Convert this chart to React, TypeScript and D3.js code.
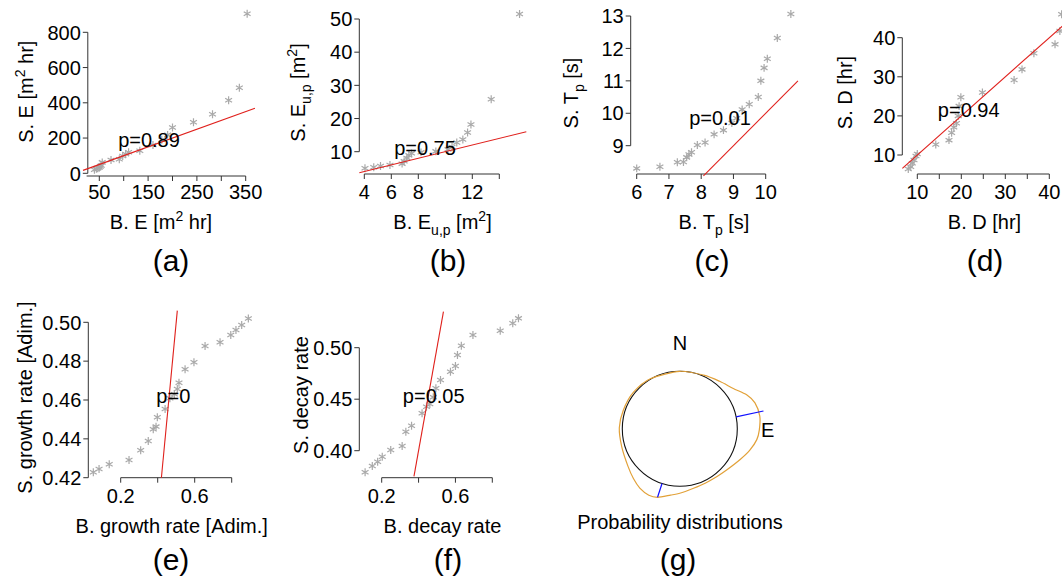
import React from "react";
import * as d3 from "d3";

// (a) storm energy, buoy vs simulated
const energyB = [40, 44, 47, 50, 52, 54, 56, 74, 91, 98, 104, 110, 133, 160, 178, 190, 200, 243, 282, 315, 337, 353];
const energyS = [20, 25, 29, 33, 38, 44, 62, 76, 80, 98, 110, 119, 128, 160, 190, 218, 260, 290, 335, 414, 485, 905];
// (b) E_u,p
const energyUpB = [4.05, 4.7, 5.2, 5.9, 6.8, 6.95, 7.15, 7.3, 7.5, 8.2, 9.3, 10.2, 10.5, 10.85, 11.3, 11.65, 11.9, 13.4, 15.5];
const energyUpS = [5.0, 5.3, 5.7, 6.0, 6.4, 7.1, 8.1, 8.9, 9.5, 9.8, 10.1, 10.7, 11.4, 12.8, 13.7, 15.8, 18.2, 25.8, 51.5];
// (c) Tp
const periodB = [6.0, 6.72, 7.26, 7.45, 7.55, 7.62, 7.7, 7.88, 8.12, 8.4, 8.69, 8.95, 9.1, 9.27, 9.49, 9.77, 9.85, 9.95, 10.05, 10.36, 10.78];
const periodS = [8.3, 8.35, 8.49, 8.5, 8.64, 8.73, 8.8, 9.02, 9.1, 9.35, 9.48, 9.7, 9.85, 10.12, 10.28, 10.5, 11.0, 11.4, 11.68, 12.32, 13.06];
// (d) duration
const durationB = [7.95, 8.5, 8.86, 9.25, 9.7, 10.0, 14.2, 17.2, 17.8, 18.3, 18.9, 19.3, 19.5, 19.9, 24.8, 32.0, 33.8, 36.5, 41.3, 42.4, 42.8];
const durationS = [6.4, 7.0, 7.87, 8.7, 9.74, 10.26, 12.7, 13.8, 15.7, 17.1, 18.1, 20.0, 22.5, 24.75, 26.0, 29.2, 31.9, 36.0, 38.3, 41.7, 46.0];
// (e) growth rate
const growthB = [0.052, 0.083, 0.138, 0.245, 0.308, 0.349, 0.376, 0.391, 0.398, 0.44, 0.466, 0.49, 0.506, 0.515, 0.548, 0.596, 0.656, 0.737, 0.795, 0.823, 0.854, 0.89];
const growthS = [0.4228, 0.4245, 0.4269, 0.4291, 0.4341, 0.4389, 0.4449, 0.4463, 0.4511, 0.4554, 0.4609, 0.463, 0.4657, 0.4689, 0.4758, 0.4794, 0.4878, 0.4897, 0.4935, 0.496, 0.4986, 0.502];
// (f) decay rate
const decayB = [0.11, 0.149, 0.178, 0.203, 0.249, 0.311, 0.331, 0.362, 0.419, 0.443, 0.461, 0.48, 0.494, 0.519, 0.573, 0.6, 0.611, 0.632, 0.695, 0.843, 0.911, 0.942];
const decayS = [0.379, 0.3851, 0.3893, 0.3942, 0.4007, 0.4046, 0.4184, 0.4243, 0.4363, 0.4427, 0.4453, 0.452, 0.4606, 0.4686, 0.4767, 0.4822, 0.4929, 0.5019, 0.5123, 0.5165, 0.5237, 0.5285];
// (g) directional density (compass bearings, deg)
const dirBearings = [0, 24, 40, 53, 63, 71, 81, 91, 98, 107, 117, 131, 142, 155, 167, 180, 188, 198, 205, 214, 223, 234, 253, 271, 288, 308, 330];
const dirDensity = [0, 0.05, 0.18, 0.38, 0.7, 0.88, 0.94, 0.88, 0.81, 0.63, 0.41, 0.2, 0.12, 0.1, 0.14, 0.28, 0.38, 0.58, 0.63, 0.56, 0.42, 0.26, 0.13, 0.12, 0.08, 0.06, 0.02];
const meanDirs = [78, 198];
const meanLengths = [1.12, 0.58];

// ticks
const aXTicks = [50, 100, 150, 200, 250, 300, 350];
const aXLabels = [50, 150, 250, 350];
const aYTicks = [0, 200, 400, 600, 800];
const bXTicks = [4, 6, 8, 10, 12, 14];
const bXLabels = [4, 6, 8, 12];
const bYTicks = [10, 20, 30, 40, 50];
const cXTicks = [6, 7, 8, 9, 10];
const cYTicks = [9, 10, 11, 12, 13];
const dXTicks = [10, 15, 20, 25, 30, 35, 40];
const dXLabels = [10, 20, 30, 40];
const dYTicks = [10, 20, 30, 40];
const eXTicks = [0.2, 0.4, 0.6, 0.8];
const eXLabels = [0.2, 0.6];
const eYTicks = [0.42, 0.44, 0.46, 0.48, 0.5];
const fYTicks = [0.4, 0.45, 0.5];

const FONT = "'Liberation Sans', Arial, Helvetica, sans-serif";
const FS = 20;
const INK = "#000";

type Seg = { t: string; sub?: boolean; sup?: boolean };

const RichText = (props: any) => {
  const { x, y, segs, anchor = "middle", rotate = false, size = FS } = props;
  let shift = 0;
  return (
    <text
      x={rotate ? 0 : x}
      y={rotate ? 0 : y}
      transform={rotate ? `translate(${x},${y}) rotate(-90)` : undefined}
      textAnchor={anchor}
      fontSize={size}
      fontFamily={FONT}
      fill={INK}
    >
      {segs.map((s: Seg, i: number) => {
        const target = s.sub ? 6 : s.sup ? -8 : 0;
        const dy = target - shift;
        shift = target;
        return (
          <tspan key={i} dy={dy} fontSize={s.sub || s.sup ? 14 : size}>
            {s.t}
          </tspan>
        );
      })}
    </text>
  );
};

const QQPanel = (props: any) => {
  const { cfg } = props;
  const x = d3.scaleLinear().domain(cfg.xDom).range(cfg.xRange);
  const y = d3.scaleLinear().domain(cfg.yDom).range(cfg.yRange);
  const star = d3.symbol().type(d3.symbolAsterisk).size(44)() as string;
  const ref = d3
    .line<number>()
    .x((v) => x(v))
    .y((v) => y(v));
  const xt = cfg.xTicks;
  const yt = cfg.yTicks;
  const fmtY = cfg.yFmt || ((v: number) => String(v));
  const xStart = cfg.xAxisStart !== undefined ? cfg.xAxisStart : xt[0];
  return (
    <g>
      {/* x axis */}
      <line
        x1={x(xStart)}
        x2={x(xt[xt.length - 1])}
        y1={cfg.xAxisY}
        y2={cfg.xAxisY}
        stroke="#333"
      />
      {xt.map((t: number, i: number) => (
        <line key={i} x1={x(t)} x2={x(t)} y1={cfg.xAxisY} y2={cfg.xAxisY + 5} stroke="#333" />
      ))}
      {cfg.xLabels.map((t: number, i: number) => (
        <text
          key={i}
          x={x(t)}
          y={cfg.xLabelY}
          textAnchor="middle"
          fontSize={FS}
          fontFamily={FONT}
          fill={INK}
        >
          {t}
        </text>
      ))}
      {/* y axis */}
      <line
        x1={cfg.yAxisX}
        x2={cfg.yAxisX}
        y1={y(yt[0])}
        y2={y(yt[yt.length - 1])}
        stroke="#333"
      />
      {yt.map((t: number, i: number) => (
        <g key={i}>
          <line x1={cfg.yAxisX - 5} x2={cfg.yAxisX} y1={y(t)} y2={y(t)} stroke="#333" />
          <text
            x={cfg.yAxisX - 7}
            y={y(t)}
            dy="0.36em"
            textAnchor="end"
            fontSize={FS}
            fontFamily={FONT}
            fill={INK}
          >
            {fmtY(t)}
          </text>
        </g>
      ))}
      {/* points */}
      {cfg.xs.map((v: number, i: number) => (
        <path
          key={i}
          d={star}
          transform={`translate(${x(v)},${y(cfg.ys[i])})`}
          stroke="#a9a9a9"
          strokeWidth={1.2}
          fill="none"
        />
      ))}
      {/* 1:1 line */}
      <path d={ref(cfg.refLine) as string} stroke="#e0201c" strokeWidth={1.1} fill="none" />
      <text
        x={cfg.pPos[0]}
        y={cfg.pPos[1]}
        textAnchor="middle"
        fontSize={FS}
        fontFamily={FONT}
        fill={INK}
      >
        {cfg.pText}
      </text>
      <RichText x={cfg.xTitle[0]} y={cfg.xTitle[1]} segs={cfg.xSegs} />
      <RichText x={cfg.yTitle[0]} y={cfg.yTitle[1]} segs={cfg.ySegs} rotate />
      <text
        x={cfg.label[0]}
        y={cfg.label[1]}
        textAnchor="middle"
        fontSize={30}
        fontFamily={FONT}
        fill={INK}
      >
        {cfg.labelText}
      </text>
    </g>
  );
};

const DirectionPanel = () => {
  const cx = 679.8;
  const cy = 428.8;
  const R = 57.5;
  const rScale = d3.scaleLinear().domain([0, 1]).range([R, R + 25]);
  const rad = (deg: number) => (deg * Math.PI) / 180;
  const curve = d3
    .lineRadial<number>()
    .angle((d, i) => rad(dirBearings[i]))
    .radius((d) => rScale(d))
    .curve(d3.curveCardinalClosed.tension(0.2));
  return (
    <g>
      <g transform={`translate(${cx},${cy})`}>
        <circle r={R} fill="none" stroke="#111" strokeWidth={1.1} />
        <path d={curve(dirDensity) as string} fill="none" stroke="#e2a138" strokeWidth={1.2} />
        {meanDirs.map((b, i) => {
          const a = rad(b);
          const r1 = rScale(meanLengths[i]);
          return (
            <line
              key={i}
              x1={R * Math.sin(a)}
              y1={-R * Math.cos(a)}
              x2={r1 * Math.sin(a)}
              y2={-r1 * Math.cos(a)}
              stroke="#1010ff"
              strokeWidth={1.2}
            />
          );
        })}
      </g>
      <text x={680} y={349.5} textAnchor="middle" fontSize={FS} fontFamily={FONT} fill={INK}>
        N
      </text>
      <text x={761} y={437} textAnchor="start" fontSize={FS} fontFamily={FONT} fill={INK}>
        E
      </text>
      <text x={680} y={528.5} textAnchor="middle" fontSize={FS} fontFamily={FONT} fill={INK}>
        Probability distributions
      </text>
      <text x={678} y={570} textAnchor="middle" fontSize={30} fontFamily={FONT} fill={INK}>
        (g)
      </text>
    </g>
  );
};

const two = (v: number) => v.toFixed(2);

const panels = [
  {
    xs: energyB, ys: energyS,
    xDom: [50, 350], xRange: [99.3, 245.7], yDom: [0, 800], yRange: [173.3, 32.3],
    xAxisY: 176, yAxisX: 87.8, xLabelY: 198.5, xAxisStart: 24,
    xTicks: aXTicks, xLabels: aXLabels, yTicks: aYTicks,
    refLine: [16.6, 369], pText: "p=0.89", pPos: [149, 146.7],
    xTitle: [161, 229], yTitle: [33.3, 91.7],
    xSegs: [{ t: "B. E [m" }, { t: "2", sup: true }, { t: " hr]" }],
    ySegs: [{ t: "S. E [m" }, { t: "2", sup: true }, { t: " hr]" }],
    label: [171, 271], labelText: "(a)",
  },
  {
    xs: energyUpB, ys: energyUpS,
    xDom: [4, 12], xRange: [364.3, 472.3], yDom: [10, 50], yRange: [151.7, 19],
    xAxisY: 174, yAxisX: 359.3, xLabelY: 198.5,
    xTicks: bXTicks, xLabels: bXLabels, yTicks: bYTicks,
    refLine: [3.63, 16.0], pText: "p=0.75", pPos: [425, 155],
    xTitle: [442.5, 229], yTitle: [304.5, 92.5],
    xSegs: [{ t: "B. E" }, { t: "u,p", sub: true }, { t: " [m" }, { t: "2", sup: true }, { t: "]" }],
    ySegs: [{ t: "S. E" }, { t: "u,p", sub: true }, { t: " [m" }, { t: "2", sup: true }, { t: "]" }],
    label: [448, 271], labelText: "(b)",
  },
  {
    xs: periodB, ys: periodS,
    xDom: [6, 10], xRange: [636.7, 765.7], yDom: [9, 13], yRange: [145.7, 16],
    xAxisY: 174, yAxisX: 630.7, xLabelY: 198.5,
    xTicks: cXTicks, xLabels: cXTicks, yTicks: cYTicks,
    refLine: [8.07, 11.0], pText: "p=0.01", pPos: [720, 125],
    xTitle: [714, 229], yTitle: [577.7, 93],
    xSegs: [{ t: "B. T" }, { t: "p", sub: true }, { t: " [s]" }],
    ySegs: [{ t: "S. T" }, { t: "p", sub: true }, { t: " [s]" }],
    label: [712, 271], labelText: "(c)",
  },
  {
    xs: durationB, ys: durationS,
    xDom: [10, 40], xRange: [917.3, 1049.3], yDom: [10, 40], yRange: [155, 37.7],
    xAxisY: 174, yAxisX: 902.3, xLabelY: 198.5,
    xTicks: dXTicks, xLabels: dXLabels, yTicks: dYTicks,
    refLine: [6.6, 48], pText: "p=0.94", pPos: [968.7, 116.7],
    xTitle: [984.5, 229], yTitle: [852, 92.5],
    xSegs: [{ t: "B. D [hr]" }],
    ySegs: [{ t: "S. D [hr]" }],
    label: [985, 271], labelText: "(d)",
  },
  {
    xs: growthB, ys: growthS,
    xDom: [0.2, 0.8], xRange: [120.7, 231.7], yDom: [0.42, 0.5], yRange: [477.7, 322.3],
    xAxisY: 477.7, yAxisX: 88.3, xLabelY: 503,
    xTicks: eXTicks, xLabels: eXLabels, yTicks: eYTicks, yFmt: two,
    refLine: [0.42, 0.506], pText: "p=0", pPos: [173.3, 403.3],
    xTitle: [171.7, 533], yTitle: [31.7, 397.5],
    xSegs: [{ t: "B. growth rate [Adim.]" }],
    ySegs: [{ t: "S. growth rate [Adim.]" }],
    label: [171, 570], labelText: "(e)",
  },
  {
    xs: decayB, ys: decayS,
    xDom: [0.2, 0.8], xRange: [381.7, 492.3], yDom: [0.4, 0.5], yRange: [450.7, 347.7],
    xAxisY: 477.7, yAxisX: 359.3, xLabelY: 503,
    xTicks: eXTicks, xLabels: eXLabels, yTicks: fYTicks, yFmt: two,
    refLine: [0.375, 0.535], pText: "p=0.05", pPos: [433.7, 403.3],
    xTitle: [442.5, 533], yTitle: [308, 395],
    xSegs: [{ t: "B. decay rate" }],
    ySegs: [{ t: "S. decay rate" }],
    label: [448, 570], labelText: "(f)",
  },
];

export default function App() {
  return (
    <svg
      width={1062}
      height={583}
      style={{ position: "absolute", left: 0, top: 0, background: "#fff" }}
    >
      {panels.map((p, i) => (
        <QQPanel key={i} cfg={p} />
      ))}
      <DirectionPanel />
    </svg>
  );
}
